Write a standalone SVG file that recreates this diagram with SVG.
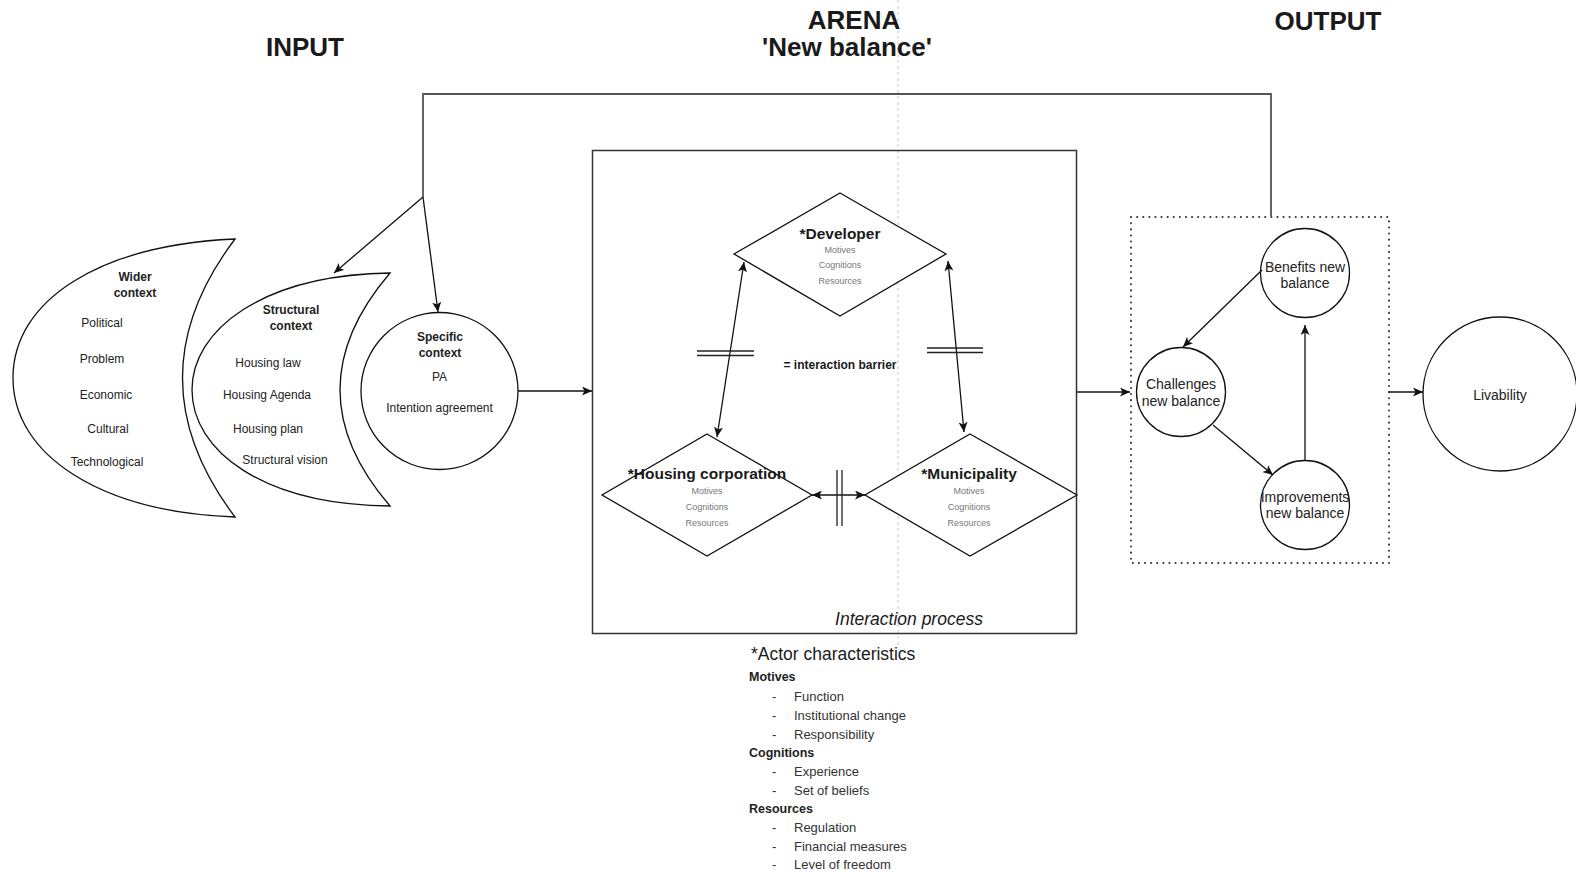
<svg xmlns="http://www.w3.org/2000/svg" width="1576" height="874" viewBox="0 0 1576 874">
  <defs>
    <marker id="arrow" markerUnits="userSpaceOnUse" markerWidth="11" markerHeight="9" refX="10" refY="4.5" orient="auto-start-reverse">
      <path d="M0,0 L10,4.5 L0,9 L2.5,4.5 z" fill="#111"/>
    </marker>
    <style>
      .t { font-family: "Liberation Sans", Arial, sans-serif; fill: #1a1a1a; }
      .title { font-size: 26px; font-weight: bold; text-anchor: middle; }
      .lbl { font-size: 12px; text-anchor: middle; fill: #222; }
      .lblb { font-size: 12px; font-weight: bold; text-anchor: middle; fill: #222; }
      .actor { font-size: 15.5px; font-weight: bold; text-anchor: middle; fill: #1a1a1a; }
      .small { font-size: 9px; text-anchor: middle; fill: #777; }
      .circ { font-size: 14px; text-anchor: middle; fill: #222; }
      .list { font-size: 13px; fill: #333; }
      .listb { font-size: 12.5px; font-weight: bold; fill: #222; }
      .shape { fill: #fff; stroke: #111; stroke-width: 1.3; }
      .edge { fill: none; stroke: #111; stroke-width: 1.3; }
      .feed { fill: none; stroke: #555; stroke-width: 1.8; }
      .barrier { fill: none; stroke: #222; stroke-width: 1.3; }
    </style>
  </defs>

  <rect width="1576" height="874" fill="#fff"/>

  <!-- faint centre guide -->
  <line x1="898" y1="0" x2="898" y2="648" stroke="#c8c8c8" stroke-width="1" stroke-dasharray="3 3"/>

  <!-- column headings -->
  <text class="t title" x="305" y="56">INPUT</text>
  <text class="t title" x="854" y="29">ARENA</text>
  <text class="t title" x="847" y="56">'New balance'</text>
  <text class="t title" x="1328" y="30">OUTPUT</text>

  <!-- interaction arena frame -->
  <g id="arena">
    <rect x="592.5" y="150.5" width="484" height="483" fill="none" stroke="#333" stroke-width="1.5"/>
    <text class="t" x="909" y="625" font-size="17.5" font-style="italic" text-anchor="middle" fill="#222">Interaction process</text>
  </g>

  <!-- output frame -->
  <g id="output-frame">
    <rect x="1131" y="217" width="258" height="346" fill="none" stroke="#333" stroke-width="2" stroke-linecap="round" stroke-dasharray="0.1 6"/>
  </g>

  <!-- input nodes -->
  <g id="wider-context">
    <path class="shape" d="M235,239 C100,245 13,300 13,378 C13,455 100,512 235,517 Q130,378 235,239 z"/>
    <text class="t lblb" x="135" y="281">Wider</text>
    <text class="t lblb" x="135" y="297">context</text>
    <text class="t lbl" x="102" y="327">Political</text>
    <text class="t lbl" x="102" y="363">Problem</text>
    <text class="t lbl" x="106" y="399">Economic</text>
    <text class="t lbl" x="108" y="433">Cultural</text>
    <text class="t lbl" x="107" y="466">Technological</text>
  </g>

  <g id="structural-context">
    <path class="shape" d="M390,273 C262,275 192,330 192,390 C192,450 262,505 390,506 Q290,390 390,273 z"/>
    <text class="t lblb" x="291" y="314">Structural</text>
    <text class="t lblb" x="291" y="330">context</text>
    <text class="t lbl" x="268" y="367">Housing law</text>
    <text class="t lbl" x="267" y="399">Housing Agenda</text>
    <text class="t lbl" x="268" y="433">Housing plan</text>
    <text class="t lbl" x="285" y="464">Structural vision</text>
  </g>

  <g id="specific-context">
    <circle class="shape" cx="439.5" cy="391" r="78.5"/>
    <text class="t lblb" x="440" y="341">Specific</text>
    <text class="t lblb" x="440" y="357">context</text>
    <text class="t lbl" x="439.5" y="381">PA</text>
    <text class="t lbl" x="439.5" y="412">Intention agreement</text>
  </g>

  <!-- actors -->
  <g id="developer">
    <polygon class="shape" points="840,193 946,254 840,316 734,254"/>
    <text class="t actor" x="840" y="239">*Developer</text>
    <text class="t small" x="840" y="253">Motives</text>
    <text class="t small" x="840" y="268">Cognitions</text>
    <text class="t small" x="840" y="284">Resources</text>
  </g>

  <g id="housing-corporation">
    <polygon class="shape" points="707,434 812,495 707,556 602,495"/>
    <text class="t actor" x="707" y="479">*Housing corporation</text>
    <text class="t small" x="707" y="494">Motives</text>
    <text class="t small" x="707" y="510">Cognitions</text>
    <text class="t small" x="707" y="526">Resources</text>
  </g>

  <g id="municipality">
    <polygon class="shape" points="970,434 1077,495 970,556 865,495"/>
    <text class="t actor" x="969" y="479">*Municipality</text>
    <text class="t small" x="969" y="494">Motives</text>
    <text class="t small" x="969" y="510">Cognitions</text>
    <text class="t small" x="969" y="526">Resources</text>
  </g>

  <g id="barrier-legend">
    <text class="t" x="840" y="369" font-size="12" font-weight="bold" text-anchor="middle" fill="#222">= interaction barrier</text>
  </g>

  <!-- output nodes -->
  <g id="benefits">
    <circle class="shape" cx="1305" cy="273" r="44.5"/>
    <text class="t circ" x="1305" y="272">Benefits new</text>
    <text class="t circ" x="1305" y="288">balance</text>
  </g>
  <g id="challenges">
    <circle class="shape" cx="1181" cy="392" r="44.5"/>
    <text class="t circ" x="1181" y="389">Challenges</text>
    <text class="t circ" x="1181" y="406">new balance</text>
  </g>
  <g id="improvements">
    <circle class="shape" cx="1305" cy="505" r="44.5"/>
    <text class="t circ" x="1305" y="502">Improvements</text>
    <text class="t circ" x="1305" y="518">new balance</text>
  </g>

  <g id="livability">
    <circle class="shape" cx="1500" cy="394" r="77"/>
    <text class="t circ" x="1500" y="400">Livability</text>
  </g>

  <!-- connectors -->
  <g id="connectors">
    <polyline class="feed" points="1271,216 1271,94 423,94 423,197"/>
    <line class="edge" x1="423" y1="197" x2="334" y2="273" marker-end="url(#arrow)"/>
    <line class="edge" x1="423" y1="197" x2="438" y2="312" marker-end="url(#arrow)"/>
    <line class="edge" x1="518" y1="391" x2="592" y2="391" marker-end="url(#arrow)"/>
    <line class="edge" x1="1077" y1="392" x2="1130" y2="392" marker-end="url(#arrow)"/>
    <line class="edge" x1="1389" y1="392" x2="1423" y2="392" marker-end="url(#arrow)"/>

    <line class="edge" x1="744" y1="262" x2="717" y2="437" marker-start="url(#arrow)" marker-end="url(#arrow)"/>
    <line class="edge" x1="948" y1="261" x2="964" y2="432" marker-start="url(#arrow)" marker-end="url(#arrow)"/>
    <line class="edge" x1="812" y1="495" x2="865" y2="495" marker-start="url(#arrow)" marker-end="url(#arrow)"/>

    <line class="edge" x1="1262" y1="270" x2="1183" y2="347" marker-end="url(#arrow)"/>
    <line class="edge" x1="1213" y1="425" x2="1273" y2="475" marker-end="url(#arrow)"/>
    <line class="edge" x1="1305" y1="460" x2="1305" y2="325" marker-end="url(#arrow)"/>

    <!-- barrier marks -->
    <path class="barrier" d="M697,351 H754 M697,355.5 H754"/>
    <path class="barrier" d="M927,348 H983 M927,352.5 H983"/>
    <path class="barrier" d="M837,470 V526 M842,470 V526"/>
  </g>

  <!-- actor characteristics key -->
  <g id="actor-characteristics">
    <text class="t" x="751" y="660" font-size="17.5" fill="#222">*Actor characteristics</text>
    <text class="t listb" x="749" y="681">Motives</text>
    <text class="t list" x="772" y="701">-</text><text class="t list" x="794" y="701">Function</text>
    <text class="t list" x="772" y="720">-</text><text class="t list" x="794" y="720">Institutional change</text>
    <text class="t list" x="772" y="739">-</text><text class="t list" x="794" y="739">Responsibility</text>
    <text class="t listb" x="749" y="757">Cognitions</text>
    <text class="t list" x="772" y="776">-</text><text class="t list" x="794" y="776">Experience</text>
    <text class="t list" x="772" y="795">-</text><text class="t list" x="794" y="795">Set of beliefs</text>
    <text class="t listb" x="749" y="813">Resources</text>
    <text class="t list" x="772" y="832">-</text><text class="t list" x="794" y="832">Regulation</text>
    <text class="t list" x="772" y="851">-</text><text class="t list" x="794" y="851">Financial measures</text>
    <text class="t list" x="772" y="869">-</text><text class="t list" x="794" y="869">Level of freedom</text>
  </g>
</svg>
